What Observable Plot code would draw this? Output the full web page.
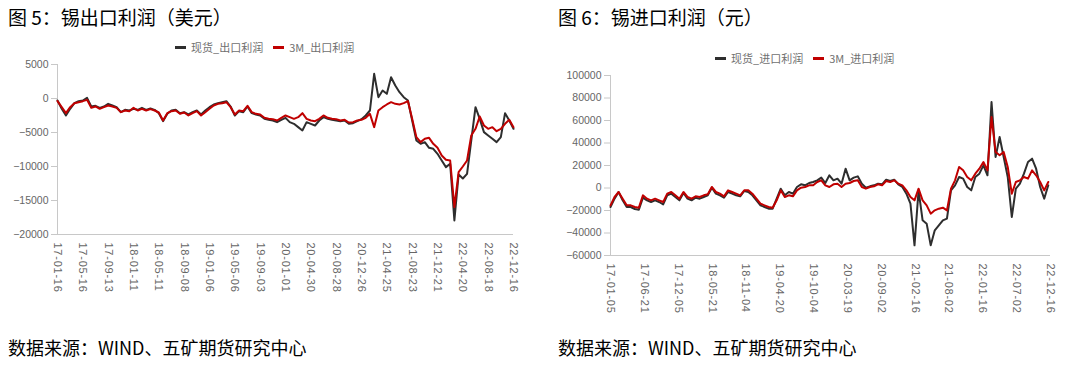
<!DOCTYPE html>
<html><head><meta charset="utf-8">
<script src="https://cdn.jsdelivr.net/npm/d3@7"></script>
<script src="https://cdn.jsdelivr.net/npm/@observablehq/plot@0.6"></script>
<style>
body{margin:0;background:#fff;width:1080px;height:368px;overflow:hidden;position:relative;font-family:"Noto Sans CJK SC",sans-serif}
.title{position:absolute;top:7px;font-size:19px;line-height:1;color:#000;white-space:nowrap}
.caption{position:absolute;top:338px;font-size:18px;line-height:1;color:#000;white-space:nowrap}
.legend{position:absolute;font-size:11px;line-height:1;color:#707070;display:flex;align-items:center;white-space:nowrap}
.sw{display:inline-block;width:11px;height:3px;margin-right:5px}
.gap{display:inline-block;width:10px}
.chart{position:absolute}
</style></head>
<body>
<div class="title" style="left:8px">图 5：锡出口利润（美元）</div>
<div class="title" style="left:558px">图 6：锡进口利润（元）</div>
<div class="legend" id="legL" style="left:175px;top:42px"></div>
<div class="legend" id="legR" style="left:715px;top:53px"></div>
<div class="chart" id="left" style="left:0;top:56px"></div>
<div class="chart" id="right" style="left:540px;top:66px"></div>
<div class="caption" style="left:8px">数据来源：WIND、五矿期货研究中心</div>
<div class="caption" style="left:558px">数据来源：WIND、五矿期货研究中心</div>
<script>
// ---- data (20-day sampling) ----
const exportStart = "2017-01-16";
const importStart = "2017-01-05";
const stepDays = 20;
const exportSeriesNames = ["现货_出口利润", "3M_出口利润"];
const importSeriesNames = ["现货_进口利润", "3M_进口利润"];
const seriesColors = ["#2e2e2e", "#c00000"];

const spotExport = [-294,-1519,-2499,-1519,-686,-392,-294,98,-1176,-1078,
-1372,-1176,-784,-1029,-1274,-2009,-1666,-1764,-1519,-1666,
-1372,-1666,-1470,-1666,-2156,-3332,-2254,-1764,-1666,-2156,
-2009,-2352,-2009,-1764,-2352,-1764,-1274,-882,-686,-539,
-392,-1176,-2499,-1862,-2009,-1176,-2156,-2352,-2499,-2989,
-3136,-3234,-3479,-3136,-2842,-3479,-3724,-4214,-4704,-3479,
-3724,-3969,-3234,-2744,-2989,-3136,-3234,-3332,-3234,-3724,
-3626,-3332,-3038,-2499,-1764,3626,196,1176,686,3136,
1911,931,196,-294,-3234,-6174,-6664,-6419,-7252,-7399,
-8134,-9114,-10094,-9604,-17934,-11172,-11760,-11074,-6174,-1274,
-2989,-4949,-5439,-5929,-6419,-5684,-2156,-3234,-4459];
const m3Export = [-392,-1274,-2156,-1274,-686,-539,-392,-196,-1372,-1176,
-1519,-1274,-1029,-1176,-1372,-2009,-1764,-1862,-1372,-1764,
-1519,-1764,-1568,-1764,-2058,-3234,-2156,-1862,-1764,-2254,
-2058,-2499,-2156,-1862,-2499,-2009,-1519,-1029,-784,-686,
-539,-1274,-2352,-1764,-1862,-1078,-2009,-2254,-2352,-2842,
-2989,-3038,-3234,-2842,-2499,-2744,-2989,-2744,-2156,-2989,
-3234,-3332,-2989,-2499,-2842,-2989,-3038,-3234,-3136,-3528,
-3479,-3234,-3136,-2842,-2254,-4214,-1764,-1274,-882,-539,
-784,-882,-686,-392,-2989,-5684,-6419,-5929,-5782,-6664,
-7252,-8379,-9016,-9114,-15974,-10829,-9996,-9114,-5439,-4459,
-2646,-3969,-4459,-4214,-4802,-4459,-3724,-3136,-4214];

const spotImport = [-16889,-9482,-3556,-10963,-16889,-16889,-18667,-19260,-8593,-10963,
-12445,-10963,-12445,-14519,-6519,-5037,-8000,-10963,-4445,-9482,
-10963,-8593,-9482,-8000,-6519,296,-5037,-6519,-8593,-3556,
-5037,-6519,-7408,-2667,-3556,-6519,-10963,-15408,-16889,-18371,
-18371,-9482,-593,-6519,-3556,-5037,889,3259,2370,4444,
5333,6815,9185,4444,11259,6815,8296,3852,17185,6815,
9185,10371,3852,296,1482,2370,3852,3259,7408,6222,
7408,3259,889,-5037,-13926,-50964,-2074,-28741,-31704,-50964,
-37630,-33186,-28741,-27260,-2074,2370,9778,8296,889,-2074,
9778,12741,20148,11259,76445,27556,45334,27556,9778,-25778,
-593,3852,12741,23111,26074,17185,889,-9482,2370];
const m3Import = [-15408,-8000,-3556,-9482,-15408,-15408,-16889,-17482,-6519,-9482,
-10963,-9482,-10963,-12445,-5037,-3556,-6519,-9482,-3556,-8000,
-9482,-7408,-8000,-6519,-5630,889,-3556,-5037,-7408,-2074,
-3556,-5037,-6519,-2074,-2074,-5037,-9482,-13926,-15408,-16889,
-17482,-10963,-2074,-8000,-6519,-7408,-2074,296,889,2370,
2370,5333,6815,2370,889,3259,3852,889,3852,4444,
6222,6815,889,-593,889,1482,3259,2370,6222,5333,
6815,3852,2370,-2074,-8000,-10963,-593,-10963,-15408,-22815,
-19852,-18371,-17482,-19852,-593,6815,18667,15704,9778,6815,
12741,17185,23111,15704,63112,32000,29037,32000,18667,-5037,
5333,6815,9778,8296,15704,11259,5333,-2074,5333];

const exportTicks = ["2017-01-16","2017-05-16","2017-09-13","2018-01-11","2018-05-11","2018-09-08","2019-01-06","2019-05-06","2019-09-03","2020-01-01","2020-04-30","2020-08-28","2020-12-26","2021-04-25","2021-08-23","2021-12-21","2022-04-20","2022-08-18","2022-12-16"];
const importTicks = ["2017-01-05","2017-06-21","2017-12-05","2018-05-21","2018-11-04","2019-04-20","2019-10-04","2020-03-19","2020-09-02","2021-02-16","2021-08-02","2022-01-16","2022-07-02","2022-12-16"];
const exportYTicks = [5000, 0, -5000, -10000, -15000, -20000];
const importYTicks = [100000, 80000, 60000, 40000, 20000, 0, -20000, -40000, -60000];

// ---- build ----
const parse = d3.utcParse("%Y-%m-%d");
const fmtDate = d3.utcFormat("%y-%m-%d");
const fmtNum = d => d < 0 ? "\u2212" + Math.abs(d) : String(d);

function table(start, spot, m3) {
  const s = parse(start);
  return spot.map((v, i) => ({date: d3.utcDay.offset(s, i * stepDays), spot: v, m3: m3[i]}));
}

function chart(data, opts) {
  const x0 = parse(opts.ticks[0]), x1 = parse(opts.ticks[opts.ticks.length - 1]);
  const svg = Plot.plot({
    width: 540, height: opts.height,
    marginTop: opts.mt, marginBottom: opts.mb, marginLeft: opts.ml, marginRight: opts.mr,
    style: {fontFamily: "'Liberation Sans', Arial, sans-serif", fontSize: "10.5px", color: "#666", background: "transparent", overflow: "visible"},
    x: {type: "utc", domain: [x0, x1]},
    y: {domain: opts.ydomain},
    marks: [
      Plot.ruleX([x0], {stroke: "#c8c8c8", strokeWidth: 1}),
      Plot.ruleY([opts.ydomain[0]], {stroke: "#c8c8c8", strokeWidth: 1}),
      Plot.axisY({ticks: opts.yticks, tickFormat: fmtNum, tickSize: 6, tickPadding: opts.tp, stroke: "#c8c8c8", label: null}),
      Plot.axisX({ticks: opts.ticks.map(parse), tickFormat: fmtDate, tickRotate: 90, textAnchor: "start", tickSize: 0, tickPadding: 8, fontSize: 11, label: null}),
      Plot.lineY(data, {x: "date", y: "spot", stroke: seriesColors[0], strokeWidth: 2}),
      Plot.lineY(data, {x: "date", y: "m3", stroke: seriesColors[1], strokeWidth: 2})
    ]
  });
  svg.querySelectorAll('[aria-label="x-axis tick label"] text').forEach(t => t.style.letterSpacing = "0.75px");
  return svg;
}

document.getElementById("left").append(chart(table(exportStart, spotExport, m3Export), {
  height: 250, mt: 8, mb: 72, ml: 57, mr: 27, ydomain: [-20000, 5000], yticks: exportYTicks, ticks: exportTicks, tp: 3
}));
document.getElementById("right").append(chart(table(importStart, spotImport, m3Import), {
  height: 260, mt: 9, mb: 71, ml: 70, mr: 30, ydomain: [-60000, 100000], yticks: importYTicks, ticks: importTicks, tp: 3
}));

function legend(id, names) {
  const el = document.getElementById(id);
  names.forEach((n, i) => {
    if (i) { const g = document.createElement("span"); g.className = "gap"; el.append(g); }
    const sw = document.createElement("span"); sw.className = "sw"; sw.style.background = seriesColors[i];
    const t = document.createElement("span"); t.textContent = n;
    el.append(sw, t);
  });
}
legend("legL", exportSeriesNames);
legend("legR", importSeriesNames);
</script>
</body></html>
